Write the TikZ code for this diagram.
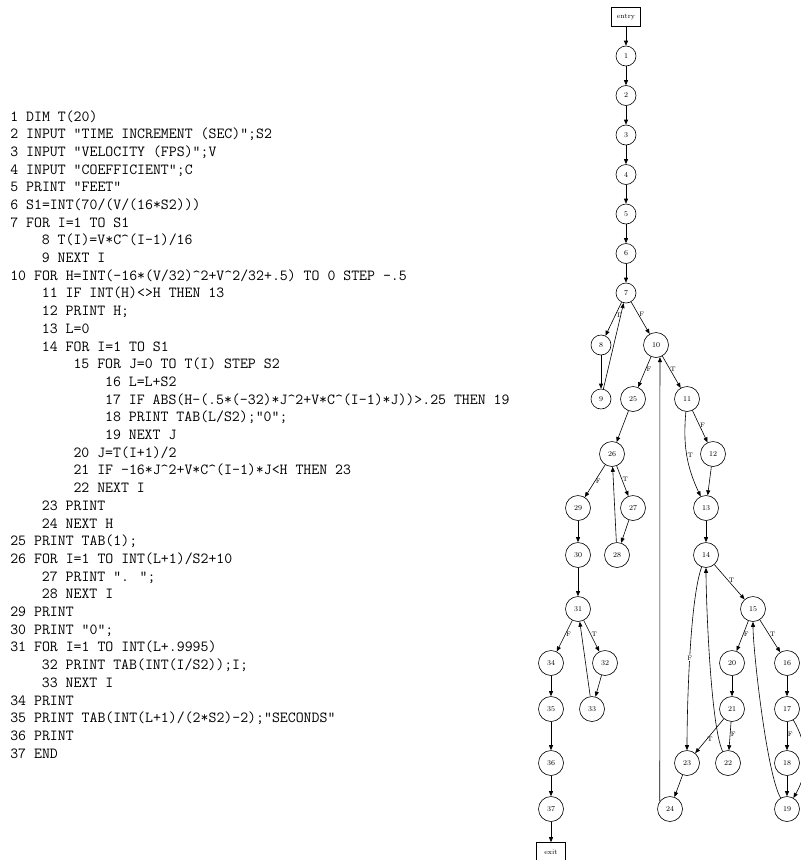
\documentclass[tikz,border=0pt]{standalone}
\usepackage{tikz}
\usepackage{amsmath}
\usetikzlibrary{arrows.meta,positioning}

\newcommand{\codeind}{\hspace*{31.6pt}}

\begin{document}
\begin{tikzpicture}[->,>={Triangle[length=5pt,width=4pt]},auto,node distance=54pt,
                    line width=0.6pt]
  \tikzstyle{state}=[circle,draw=black,text=black,minimum size=20pt,inner sep=0pt,
                     font=\fontsize{7.5}{8}\selectfont]
  \tikzstyle{bigstate}=[state,minimum size=25pt]
  \tikzstyle{term}=[rectangle,draw=black,text=black,minimum width=29pt,
                    minimum height=19pt,inner sep=0pt,font=\fontsize{7}{8}\selectfont]
  \tikzstyle{lbl}=[font=\fontsize{6.5}{7}\selectfont,inner sep=0.5pt]
  \tikzstyle{listing}=[anchor=north west,align=left,inner sep=0pt,
                       font=\ttfamily\fontsize{15.4}{17.7}\selectfont]

  \useasboundingbox (0,0) rectangle (801pt,-860pt);

  % program text
  \node[listing] (code) at (10pt,-110pt) {%
    1 DIM T(20)\\
    2 INPUT "TIME INCREMENT (SEC)";S2\\
    3 INPUT "VELOCITY (FPS)";V\\
    4 INPUT "COEFFICIENT";C\\
    5 PRINT "FEET"\\
    6 S1=INT(70/(V/(16*S2)))\\
    7 FOR I=1 TO S1\\
    \codeind 8 T(I)=V*C\textasciicircum(I-1)/16\\
    \codeind 9 NEXT I\\
    10 FOR H=INT(-16*(V/32)\textasciicircum 2+V\textasciicircum 2/32+.5) TO 0 STEP -.5\\
    \codeind 11 IF INT(H)<>H THEN 13\\
    \codeind 12 PRINT H;\\
    \codeind 13 L=0\\
    \codeind 14 FOR I=1 TO S1\\
    \codeind\codeind 15 FOR J=0 TO T(I) STEP S2\\
    \codeind\codeind\codeind 16 L=L+S2\\
    \codeind\codeind\codeind 17 IF ABS(H-(.5*(-32)*J\textasciicircum 2+V*C\textasciicircum(I-1)*J))>.25 THEN 19\\
    \codeind\codeind\codeind 18 PRINT TAB(L/S2);"0";\\
    \codeind\codeind\codeind 19 NEXT J\\
    \codeind\codeind 20 J=T(I+1)/2\\
    \codeind\codeind 21 IF -16*J\textasciicircum 2+V*C\textasciicircum(I-1)*J<H THEN 23\\
    \codeind\codeind 22 NEXT I\\
    \codeind 23 PRINT\\
    \codeind 24 NEXT H\\
    25 PRINT TAB(1);\\
    26 FOR I=1 TO INT(L+1)/S2+10\\
    \codeind 27 PRINT ". ";\\
    \codeind 28 NEXT I\\
    29 PRINT\\
    30 PRINT "0";\\
    31 FOR I=1 TO INT(L+.9995)\\
    \codeind 32 PRINT TAB(INT(I/S2));I;\\
    \codeind 33 NEXT I\\
    34 PRINT\\
    35 PRINT TAB(INT(L+1)/(2*S2)-2);"SECONDS"\\
    36 PRINT\\
    37 END};

  % control flow graph
  \node[term]     (entry) at (626pt,-17pt) {entry};
  \node[state]    (n1)  [below of=entry, yshift=15pt] {1};
  \node[state]    (n2)  [below of=n1, yshift=14.5pt] {2};
  \node[state]    (n3)  [below of=n2, yshift=14.5pt] {3};
  \node[state]    (n4)  [below of=n3, yshift=14.5pt] {4};
  \node[state]    (n5)  [below of=n4, yshift=14.5pt] {5};
  \node[state]    (n6)  [below of=n5, yshift=14.5pt] {6};
  \node[state]    (n7)  [below of=n6, yshift=14.5pt] {7};
  \node[state]    (n8)  [below of=n7, xshift=-25pt, yshift=2pt] {8};
  \node[bigstate] (n10) [below of=n7, xshift=30pt, yshift=2pt] {10};
  \node[state]    (n9)  [below of=n8] {9};
  \node[bigstate] (n25) [below of=n10, xshift=-23pt] {25};
  \node[bigstate] (n11) [below of=n10, xshift=31pt] {11};
  \node[bigstate] (n26) [below of=n25, xshift=-21pt, yshift=-1pt] {26};
  \node[bigstate] (n12) [below of=n11, xshift=26pt, yshift=-1pt] {12};
  \node[bigstate] (n29) [below of=n26, xshift=-34pt] {29};
  \node[bigstate] (n27) [below of=n26, xshift=21pt] {27};
  \node[bigstate] (n13) [below of=n12, xshift=-7pt] {13};
  \node[bigstate] (n30) [below of=n29, yshift=7pt] {30};
  \node[bigstate] (n28) [below of=n27, xshift=-16pt, yshift=7pt] {28};
  \node[bigstate] (n14) [below of=n13, yshift=7pt] {14};
  \node[bigstate] (n31) [below of=n30] {31};
  \node[bigstate] (n15) [below of=n14, xshift=47pt] {15};
  \node[bigstate] (n34) [below of=n31, xshift=-27pt] {34};
  \node[bigstate] (n32) [below of=n31, xshift=27pt] {32};
  \node[bigstate] (n20) [below of=n15, xshift=-21pt] {20};
  \node[bigstate] (n16) [below of=n15, xshift=34pt] {16};
  \node[bigstate] (n35) [below of=n34, yshift=8pt] {35};
  \node[bigstate] (n33) [below of=n32, xshift=-13pt, yshift=8pt] {33};
  \node[bigstate] (n21) [below of=n20, yshift=8pt] {21};
  \node[bigstate] (n17) [below of=n16, yshift=8pt] {17};
  \node[bigstate] (n36) [below of=n35] {36};
  \node[bigstate] (n23) [below of=n21, xshift=-45pt] {23};
  \node[bigstate] (n22) [below of=n21, xshift=-4pt] {22};
  \node[bigstate] (n18) [below of=n17] {18};
  \node[bigstate] (n37) [below of=n36, yshift=8pt] {37};
  \node[bigstate] (n24) [below of=n23, xshift=-17pt, yshift=8pt] {24};
  \node[bigstate] (n19) [below of=n18, yshift=8pt] {19};
  \node[term]     (exit) [below of=n37, yshift=11pt] {exit};

  \path (entry) edge (n1)
        (n1) edge (n2)
        (n2) edge (n3)
        (n3) edge (n4)
        (n4) edge (n5)
        (n5) edge (n6)
        (n6) edge (n7)
        (n7) edge node[lbl,right,pos=0.4] {T} (n8)
             edge node[lbl,right,pos=0.4] {F} (n10)
        (n8) edge (n9)
        (n9) edge (n7)
        (n10) edge node[lbl,right,pos=0.4] {F} (n25)
              edge node[lbl,right,pos=0.4] {T} (n11)
        (n11) edge node[lbl,right,pos=0.45] {F} (n12)
              edge[bend right=15] node[lbl,right,pos=0.5] {T} (n13)
        (n12) edge (n13)
        (n13) edge (n14)
        (n14) edge node[lbl,right,pos=0.45] {T} (n15)
              edge[out=-110,in=90,looseness=0.5] node[lbl,fill=white,anchor=center,pos=0.5] {F} (n23)
        (n15) edge node[lbl,right,pos=0.45] {F} (n20)
              edge node[lbl,right,pos=0.45] {T} (n16)
        (n16) edge (n17)
        (n17) edge node[lbl,right,pos=0.45] {F} (n18)
              edge[out=-60,in=60] (n19)
        (n18) edge (n19)
        (n19) edge[out=120,in=-90,looseness=0.4] (n15)
        (n20) edge (n21)
        (n21) edge node[lbl,right,pos=0.6] {T} (n23)
              edge node[lbl,right,pos=0.45] {F} (n22)
        (n22) edge[out=115,in=-90,looseness=0.4] (n14)
        (n23) edge (n24)
        (n24.143) edge (n10.-72)
        (n25) edge (n26)
        (n26) edge node[lbl,right,pos=0.5] {F} (n29)
              edge node[lbl,right,pos=0.45] {T} (n27)
        (n27) edge (n28)
        (n28) edge (n26)
        (n29) edge (n30)
        (n30) edge (n31)
        (n31) edge node[lbl,right,pos=0.45] {F} (n34)
              edge node[lbl,right,pos=0.45] {T} (n32)
        (n32) edge (n33)
        (n33) edge (n31)
        (n34) edge (n35)
        (n35) edge (n36)
        (n36) edge (n37)
        (n37) edge (exit);
\end{tikzpicture}
\end{document}
